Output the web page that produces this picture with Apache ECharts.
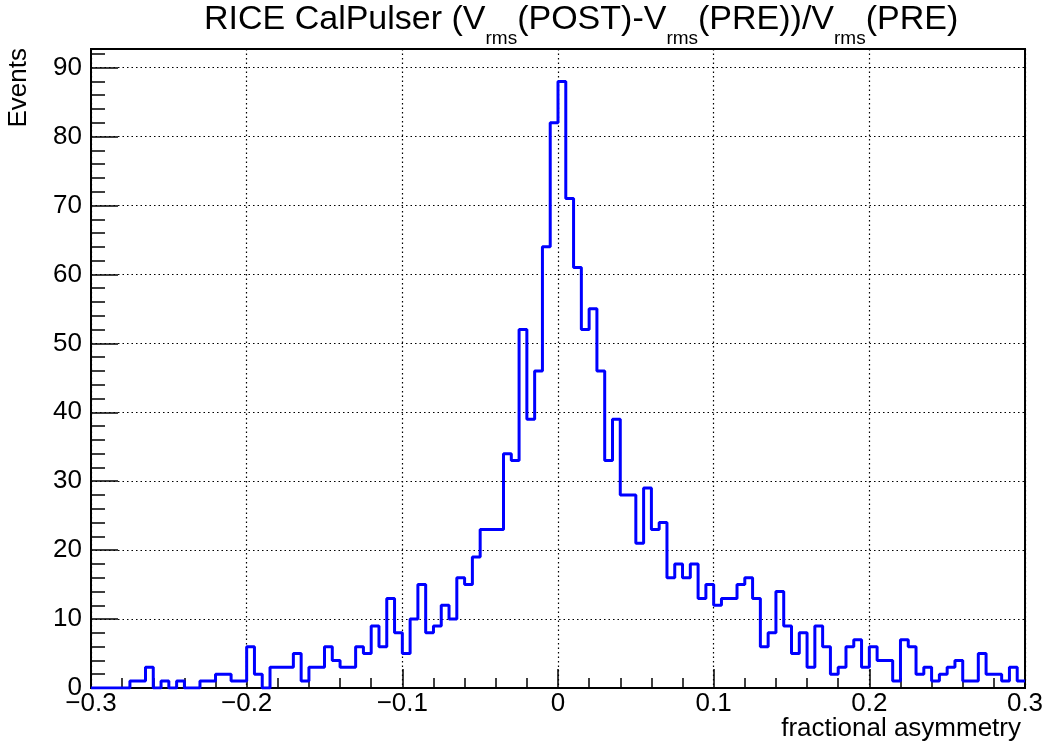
<!DOCTYPE html>
<html>
<head>
<meta charset="utf-8">
<title>RICE CalPulser</title>
<script src="https://cdn.jsdelivr.net/npm/echarts@6/dist/echarts.min.js"></script>
<style>
html, body { margin: 0; padding: 0; background: #ffffff; }
#chart { width: 1048px; height: 751px; }
</style>
</head>
<body>
<div id="chart"></div>
<script>
// ============================================================
// RICE CalPulser 直方图 (ROOT 风格)
// ============================================================

// 分箱：-0.3 到 0.3，共 120 箱
var binLow = -0.3;
var binWidth = 0.005;

// 每箱事件数
var counts = [
    0, 0, 0, 0, 0, 1, 1, 3, 0, 1,
    0, 1, 0, 0, 1, 1, 2, 2, 1, 1,
    6, 2, 0, 3, 3, 3, 5, 1, 3, 3,
    6, 4, 3, 3, 6, 5, 9, 6, 13, 8,
    5, 10, 15, 8, 9, 12, 10, 16, 15, 19,
    23, 23, 23, 34, 33, 52, 39, 46, 64, 82,
    88, 71, 61, 52, 55, 46, 33, 39, 28, 28,
    21, 29, 23, 24, 16, 18, 16, 18, 13, 15,
    12, 13, 13, 15, 16, 13, 6, 8, 14, 9,
    5, 8, 3, 9, 6, 2, 3, 6, 7, 3,
    6, 4, 4, 1, 7, 6, 2, 3, 1, 2,
    3, 4, 1, 1, 5, 2, 2, 1, 3, 1
];

// 坐标轴刻度标签
var xTickLabels = ['\u22120.3', '\u22120.2', '\u22120.1', '0', '0.1', '0.2', '0.3'];
var yTickLabels = ['0', '10', '20', '30', '40', '50', '60', '70', '80', '90'];

var xMin = -0.3;
var xMax = 0.3;
var yMax = 92.7;

var FONT = 'Liberation Sans, Arial, Helvetica, sans-serif';

function buildSteps() {
    // 每箱左边界一个点，最后补右边界
    var pts = counts.map(function(c, i) {
        return [binLow + i * binWidth, c];
    });
    pts.push([binLow + counts.length * binWidth, counts[counts.length - 1]]);
    return pts;
}

var chart = echarts.init(document.getElementById('chart'));

var option = {
    animation: false,
    backgroundColor: '#ffffff',
    title: {
        left: 204,
        top: 3,
        padding: 0,
        text: '{t|RICE CalPulser (V}{s|rms}{t|(POST)-V}{s|rms}{t|(PRE))/V}{s|rms}{t|(PRE)}',
        textStyle: {
            fontWeight: 'normal',
            rich: {
                t: { fontFamily: FONT, fontSize: 34, fontWeight: 'normal', color: '#000', lineHeight: 34, verticalAlign: 'top' },
                s: { fontFamily: FONT, fontSize: 19, fontWeight: 'normal', color: '#000', lineHeight: 19, verticalAlign: 'top', padding: [26, 0, 0, 0] }
            }
        }
    },
    grid: {
        left: 91,
        right: 23,
        top: 49,
        bottom: 63,
        show: true,
        borderColor: '#000',
        borderWidth: 2,
        backgroundColor: 'transparent'
    },
    xAxis: {
        type: 'value',
        min: xMin,
        max: xMax,
        interval: 0.1,
        axisLine: { show: true, onZero: false, lineStyle: { color: '#000', width: 2 } },
        axisTick: { show: true, inside: true, length: 19, lineStyle: { color: '#000', width: 1.5 } },
        minorTick: { show: true, splitNumber: 5, length: 10, lineStyle: { color: '#000', width: 1.5 } },
        axisLabel: {
            color: '#000',
            fontFamily: FONT,
            fontSize: 26,
            margin: 3,
            formatter: function(v) {
                return xTickLabels[Math.round((v - xMin) / 0.1)];
            }
        },
        splitLine: { show: true, lineStyle: { color: '#000', width: 1.2, type: [1.5, 3] } }
    },
    yAxis: [
        // 主刻度 + 标签 + 网格
        {
            type: 'value',
            position: 'left',
            min: 0,
            max: yMax,
            interval: 10,
            axisLine: { show: true, onZero: false, lineStyle: { color: '#000', width: 2 } },
            axisTick: { show: true, inside: true, length: 27, lineStyle: { color: '#000', width: 1.5 } },
            axisLabel: {
                color: '#000',
                fontFamily: FONT,
                fontSize: 26,
                margin: 9,
                formatter: function(v) {
                    return v % 10 === 0 ? yTickLabels[v / 10] : '';
                }
            },
            splitLine: { show: true, lineStyle: { color: '#000', width: 1.2, type: [1.5, 3] } }
        },
        // 次刻度
        {
            type: 'value',
            position: 'left',
            min: 0,
            max: yMax,
            interval: 2,
            axisLine: { show: false, onZero: false },
            axisTick: { show: true, inside: true, length: 14, lineStyle: { color: '#000', width: 1.5 } },
            axisLabel: { show: false },
            splitLine: { show: false }
        }
    ],
    graphic: [
        {
            type: 'text',
            x: 19,
            y: 48,
            rotation: Math.PI / 2,
            style: {
                text: 'Events',
                fill: '#000',
                font: '26px ' + FONT,
                textAlign: 'right',
                textVerticalAlign: 'middle'
            }
        },
        {
            type: 'text',
            x: 1021,
            y: 729,
            style: {
                text: 'fractional asymmetry',
                fill: '#000',
                font: '26px ' + FONT,
                textAlign: 'right',
                textVerticalAlign: 'middle'
            }
        }
    ],
    series: [{
        type: 'line',
        step: 'end',
        yAxisIndex: 0,
        symbol: 'none',
        data: buildSteps(),
        lineStyle: { color: '#0000ff', width: 3 },
        z: 3
    }]
};

chart.setOption(option);
</script>
</body>
</html>
